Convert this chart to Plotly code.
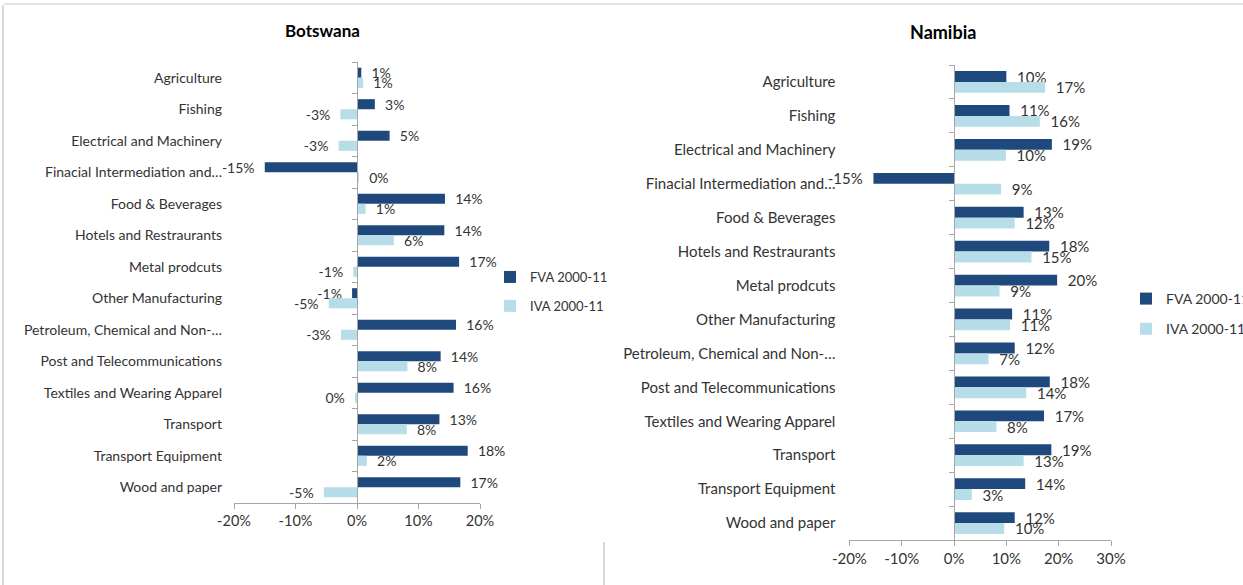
import plotly.graph_objects as go

# Sectors (same order for both countries, top to bottom)
categories = [
    "Agriculture",
    "Fishing",
    "Electrical and Machinery",
    "Finacial Intermediation and…",
    "Food & Beverages",
    "Hotels and Restraurants",
    "Metal prodcuts",
    "Other Manufacturing",
    "Petroleum, Chemical and Non-…",
    "Post and Telecommunications",
    "Textiles and Wearing Apparel",
    "Transport",
    "Transport Equipment",
    "Wood and paper",
]

# Growth of value added 2000-11, in percent
botswana_fva = [0.7, 2.9, 5.3, -15.0, 14.3, 14.2, 16.6, -0.8, 16.1, 13.6, 15.7, 13.4, 18.0, 16.8]
botswana_iva = [1.0, -2.7, -3.0, 0.3, 1.4, 6.0, -0.6, -4.6, -2.6, 8.2, -0.3, 8.1, 1.6, -5.4]
namibia_fva = [10.0, 10.6, 18.7, -15.4, 13.3, 18.2, 19.7, 11.1, 11.6, 18.3, 17.2, 18.6, 13.6, 11.6]
namibia_iva = [17.4, 16.4, 9.9, 9.0, 11.6, 14.8, 8.7, 10.7, 6.6, 13.8, 8.1, 13.3, 3.4, 9.6]

series_names = ["FVA 2000-11", "IVA 2000-11"]
botswana_ticks = [-20, -10, 0, 10, 20]
botswana_tick_labels = ["-20%", "-10%", "0%", "10%", "20%"]
namibia_ticks = [-20, -10, 0, 10, 20, 30]
namibia_tick_labels = ["-20%", "-10%", "0%", "10%", "20%", "30%"]

DARK = "#1F497D"
LIGHT = "#B7DEE8"
TEXT = "#333333"
AXIS = "#A6A6A6"
FRAME = "#D9D9D9"
FONT = "Lato, 'Open Sans', sans-serif"
W, H = 1243, 585
PAD = "\u00a0\u00a0"


def labels(values):
    # Rounded percentage labels, padded away from the bar end
    out = []
    for v in values:
        s = f"{round(v)}%"
        out.append(PAD + s if v >= 0 else s + PAD)
    return out


def px_x(p):
    return p / W


def px_y(p):
    return 1 - p / H


fig = go.Figure()

panels = [
    dict(fva=botswana_fva, iva=botswana_iva, x="x", y="y", yline="y3",
         legend="legend", size=14),
    dict(fva=namibia_fva, iva=namibia_iva, x="x2", y="y2", yline="y4",
         legend="legend2", size=15),
]

for i, p in enumerate(panels):
    for name, vals, col in zip(series_names, [p["fva"], p["iva"]], [DARK, LIGHT]):
        fig.add_trace(go.Bar(
            x=vals, y=categories, orientation="h", name=name,
            marker=dict(color=col, line=dict(width=0)),
            text=labels(vals), textposition="outside", cliponaxis=False,
            constraintext="none",
            textfont=dict(family=FONT, size=p["size"], color=TEXT),
            xaxis=p["x"], yaxis=p["y"], legend=p["legend"],
            legendgroup=f"{p['legend']}-{name}",
            hovertemplate="%{y}: %{x:.1f}%<extra>" + name + "</extra>",
        ))
    # invisible helper so the zero-position category axis gets its boundaries
    fig.add_trace(go.Scatter(
        x=[0] * len(categories), y=categories, mode="markers",
        marker=dict(opacity=0), showlegend=False, hoverinfo="skip",
        xaxis=p["x"], yaxis=p["yline"],
    ))

n = len(categories)
cat_range = [n - 0.5, -0.5]

bw_dom = [px_x(234), px_x(480)]
nm_dom = [px_x(849.4), px_x(1111)]
bw_ydom = [px_y(503), px_y(62)]
nm_ydom = [px_y(540), px_y(65)]


def xaxis(dom, anchor, rng, ticks, tick_labels, size):
    return dict(
        domain=dom, anchor=anchor, range=rng, tickvals=ticks, ticktext=tick_labels,
        showline=True, linecolor=AXIS, linewidth=1, ticks="outside", ticklen=5,
        tickcolor=AXIS, zeroline=False, showgrid=False,
        tickfont=dict(family=FONT, size=size, color=TEXT),
    )


def label_axis(dom, anchor, size, standoff):
    return dict(
        domain=dom, anchor=anchor, type="category", categoryarray=categories,
        categoryorder="array", range=cat_range, showline=False, ticks="",
        showgrid=False, zeroline=False, ticklabelstandoff=standoff,
        tickfont=dict(family=FONT, size=size, color=TEXT),
    )


def zero_axis(over, pos):
    return dict(
        overlaying=over, anchor="free", position=pos, side="left",
        type="category", categoryarray=categories, categoryorder="array",
        range=cat_range, showline=True, linecolor=AXIS, linewidth=1,
        ticks="outside", ticklen=5, tickcolor=AXIS, tickson="boundaries",
        showticklabels=False, showgrid=False, zeroline=False,
    )


bw_zero = bw_dom[0] + (0 - (-20)) / 40 * (bw_dom[1] - bw_dom[0])
nm_zero = nm_dom[0] + (0 - (-20)) / 50 * (nm_dom[1] - nm_dom[0])

fig.update_layout(
    width=W, height=H,
    margin=dict(l=0, r=0, t=0, b=0, autoexpand=False),
    paper_bgcolor="white", plot_bgcolor="rgba(0,0,0,0)",
    barmode="group", bargap=0.36, bargroupgap=0,
    font=dict(family=FONT, color=TEXT),
    xaxis=xaxis(bw_dom, "y", [-20, 20], botswana_ticks, botswana_tick_labels, 14.5),
    xaxis2=xaxis(nm_dom, "y2", [-20, 30], namibia_ticks, namibia_tick_labels, 15),
    yaxis=label_axis(bw_ydom, "x", 14, 11),
    yaxis2=label_axis(nm_ydom, "x2", 15, 13),
    yaxis3=zero_axis("y", bw_zero),
    yaxis4=zero_axis("y2", nm_zero),
    legend=dict(
        x=px_x(490), y=px_y(262), xanchor="left", yanchor="top",
        traceorder="grouped", tracegroupgap=9, bgcolor="rgba(0,0,0,0)",
        font=dict(family=FONT, size=13, color=TEXT),
    ),
    legend2=dict(
        x=px_x(1126), y=px_y(283), xanchor="left", yanchor="top",
        traceorder="grouped", tracegroupgap=9, bgcolor="rgba(0,0,0,0)",
        font=dict(family=FONT, size=14, color=TEXT),
    ),
    annotations=[
        dict(text="<b>Botswana</b>", x=px_x(322), y=px_y(30), xref="paper",
             yref="paper", showarrow=False, xanchor="center", yanchor="middle",
             font=dict(family=FONT, size=17, color="#000000")),
        dict(text="<b>Namibia</b>", x=px_x(943), y=px_y(32), xref="paper",
             yref="paper", showarrow=False, xanchor="center", yanchor="middle",
             font=dict(family=FONT, size=18, color="#000000")),
    ],
    shapes=[
        # chart frame edges
        dict(type="line", xref="paper", yref="paper", x0=px_x(4), x1=1,
             y0=px_y(4), y1=px_y(4), line=dict(color=FRAME, width=1.5)),
        dict(type="line", xref="paper", yref="paper", x0=px_x(3), x1=px_x(3),
             y0=px_y(5), y1=0, line=dict(color=FRAME, width=2)),
        dict(type="line", xref="paper", yref="paper", x0=px_x(604), x1=px_x(604),
             y0=px_y(542), y1=0, line=dict(color=FRAME, width=2)),
    ],
)

fig.write_html("out.html")
